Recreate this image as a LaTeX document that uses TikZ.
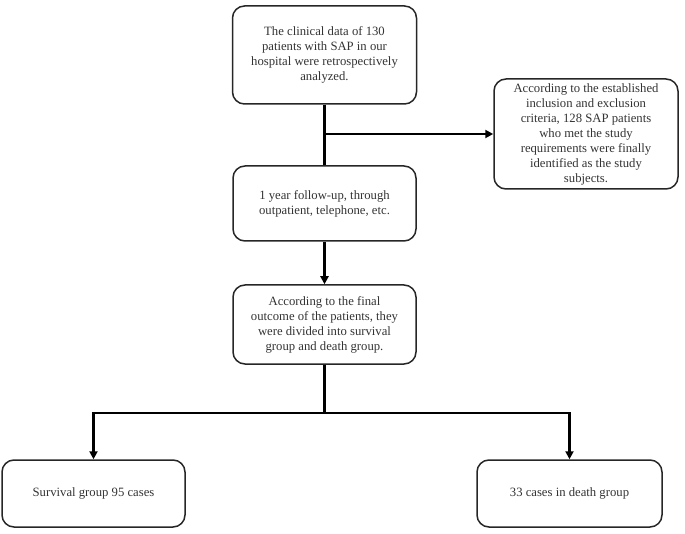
\documentclass[tikz,border=0pt]{standalone}
\usepackage{fontspec}
\setmainfont{Liberation Serif}
\usetikzlibrary{arrows.meta,calc}
\begin{document}
\begin{tikzpicture}[x=1pt,y=1pt,
  box/.style={draw=black!85, line width=1.5pt, rounded corners=12pt, align=center,
    font=\fontsize{12.7}{15}\selectfont, text=black!80, inner sep=0pt},
  conn/.style={line width=2.1pt, draw=black},
  arr/.style={conn, -{Triangle[length=8pt,width=8pt]}}]
\useasboundingbox (0,0) rectangle (685,-534);
\node[box, minimum width=184pt, minimum height=98pt] (b1) at (324.5,-55)
  {The clinical data of 130\\patients with SAP in our\\hospital were retrospectively\\analyzed.};
\node[box, minimum width=184pt, minimum height=110pt] (br) at (586,-134)
  {According to the established\\inclusion and exclusion\\criteria, 128 SAP patients\\who met the study\\requirements were finally\\identified as the study\\subjects.};
\node[box, minimum width=183pt, minimum height=75pt] (b2) at (324.5,-203.5)
  {1 year follow-up, through\\outpatient, telephone, etc.};
\node[box, minimum width=183pt, minimum height=79pt] (b3) at (324.5,-324.5)
  {According to the final\\outcome of the patients, they\\were divided into survival\\group and death group.};
\node[box, minimum width=183pt, minimum height=67pt] (bl) at (93.5,-493.5)
  {Survival group 95 cases};
\node[box, minimum width=185pt, minimum height=67pt] (bR) at (569.5,-493.5)
  {33 cases in death group};
\coordinate (j1) at (b1.south |- br.west);
\coordinate (j2) at ($(b3.south)+(0,-48)$);
\draw[conn] (b1.south) -- (b2.north);
\draw[arr] (j1) -- (br.west);
\draw[arr] (b2.south) -- (b3.north);
\draw[conn] (b3.south) -- (j2);
\draw[arr] (j2) -| (bl.north);
\draw[arr] (j2) -| (bR.north);
\end{tikzpicture}
\end{document}
